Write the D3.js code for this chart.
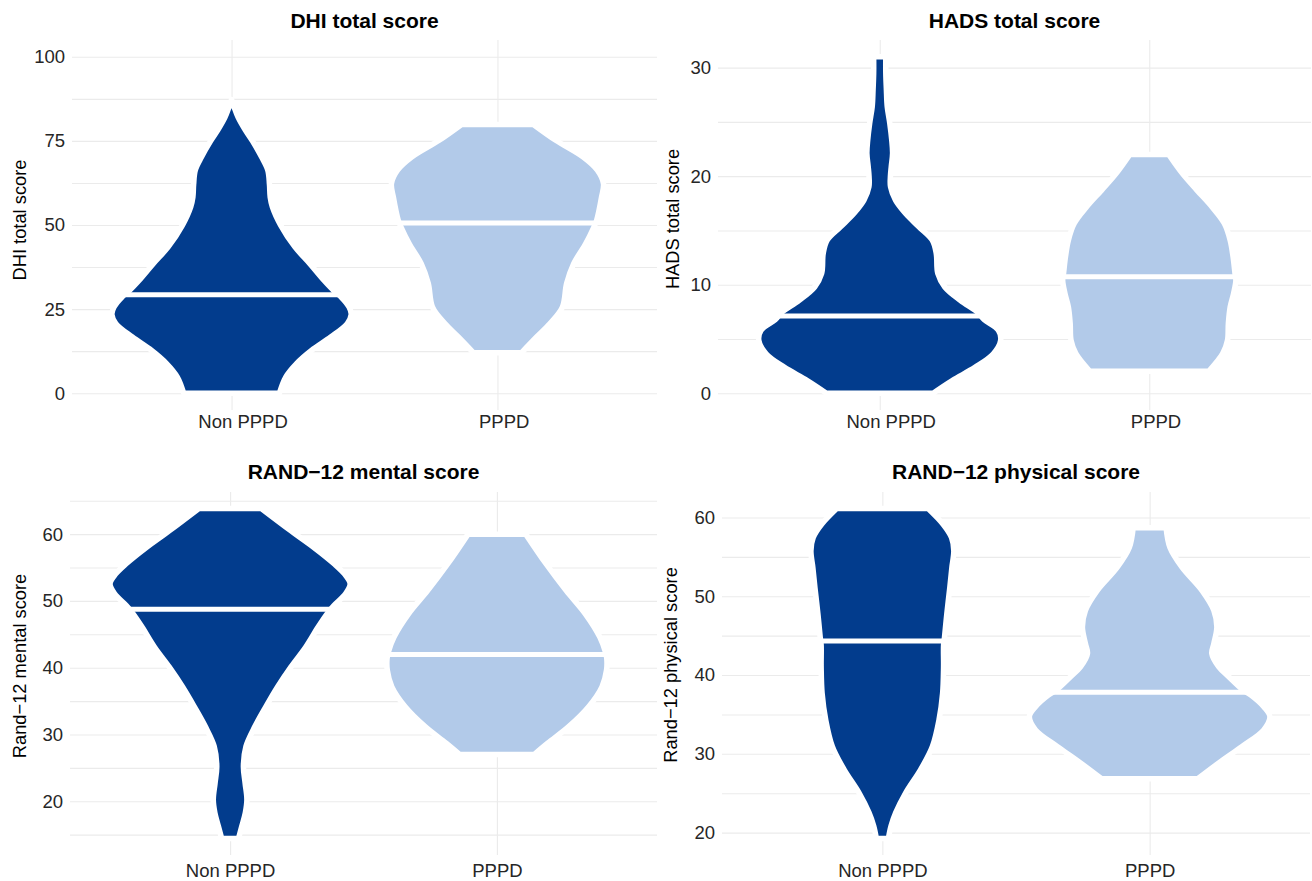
<!DOCTYPE html>
<html><head><meta charset="utf-8">
<script src="https://cdn.jsdelivr.net/npm/d3@7"></script>
<style>body{margin:0;background:#fff}svg{display:block}</style>
</head><body>
<svg id="chart" width="1312" height="881"></svg>
<script>
// ---------------- data ----------------
const categories = ["Non PPPD", "PPPD"];
const panelTitles = ["DHI total score", "HADS total score", "RAND\u221212 mental score", "RAND\u221212 physical score"];
const yAxisTitles = ["DHI total score", "HADS total score", "Rand\u221212 mental score", "Rand\u221212 physical score"];
const yBreaks = [[0, 25, 50, 75, 100], [0, 10, 20, 30], [20, 30, 40, 50, 60], [20, 30, 40, 50, 60]];
const yMinorBreaks = [[12.5, 37.5, 62.5, 87.5], [5, 15, 25], [15, 25, 35, 45, 55, 65], [25, 35, 45, 55]];
const yLimits = [[0, 100], null, null, null];
const medians = [[29.3, 50.6], [7.11, 10.74], [48.77, 41.96], [44.32, 37.80]];
const groupColors = ["#023C8D", "#B2CAE9"];

// violin profiles: [score, scaled density]
const dhiNonPPPD = [[0,0.40],[4.8,0.453],[8.8,0.543],[12.7,0.668],[16.7,0.829],[20.7,0.967],[23.4,1.0],[25.6,0.982],[28.6,0.915],[29.9,0.871],[33.5,0.773],[38.5,0.654],[43.5,0.529],[49.9,0.411],[55.4,0.341],[58.3,0.323],[62,0.317],[66.3,0.303],[70.2,0.251],[75,0.174],[78.2,0.115],[82,0.055],[85,0.022],[87.3,0]];
const dhiPPPD = [[12.0,0.20],[16.7,0.327],[20.7,0.439],[25.6,0.543],[32.6,0.578],[38.5,0.637],[44.5,0.738],[49.4,0.806],[51.4,0.829],[58.3,0.870],[62.3,0.886],[66.3,0.835],[70.2,0.717],[75.2,0.487],[79.9,0.30]];
const hadsNonPPPD = [[0,0.44],[1.17,0.598],[2.40,0.788],[3.64,0.937],[4.87,0.997],[5.79,0.978],[6.77,0.862],[7.39,0.813],[8.56,0.664],[9.79,0.536],[11.02,0.479],[12.87,0.466],[14.10,0.433],[15.33,0.323],[16.56,0.213],[17.79,0.130],[19.02,0.089],[19.95,0.088],[20.87,0.095],[22.10,0.106],[23.33,0.099],[24.87,0.083],[26.41,0.062],[27.95,0.055],[29.49,0.050],[31.0,0.050]];
const hadsPPPD = [[2.02,0.49],[3.64,0.605],[4.87,0.645],[6.41,0.652],[7.94,0.667],[9.18,0.695],[10.41,0.714],[11.02,0.707],[12.56,0.691],[14.10,0.667],[15.64,0.619],[17.18,0.516],[18.72,0.392],[20.26,0.272],[22.0,0.16]];
const mentalNonPPPD = [[14.42,0.07],[16.28,0.098],[18.27,0.127],[20.25,0.140],[22.74,0.125],[25.22,0.111],[28.2,0.132],[31.18,0.206],[34.16,0.298],[37.14,0.396],[40.12,0.507],[43.1,0.630],[46.09,0.733],[48.32,0.818],[49.31,0.864],[51.06,0.961],[52.55,1.0],[54.04,0.952],[55.53,0.868],[58.0,0.698],[60.49,0.507],[63.84,0.26]];
const mentalPPPD = [[27.0,0.31],[28.7,0.423],[31.18,0.598],[34.16,0.764],[37.14,0.875],[39.63,0.913],[41.37,0.915],[42.36,0.904],[44.59,0.857],[48.07,0.736],[51.55,0.577],[55.53,0.410],[60.0,0.24]];
const physicalNonPPPD = [[19.25,0.05],[20.84,0.072],[22.53,0.111],[25.05,0.194],[28.0,0.318],[30.94,0.416],[34.31,0.471],[37.68,0.501],[41.04,0.509],[43.78,0.509],[44.82,0.517],[47.78,0.536],[51.14,0.561],[53.66,0.578],[55.77,0.594],[57.45,0.575],[59.14,0.505],[61.14,0.38]];
const physicalPPPD = [[26.83,0.40],[28.84,0.575],[30.94,0.769],[33.04,0.949],[34.73,1.0],[35.99,0.949],[37.46,0.842],[38.10,0.776],[39.78,0.658],[41.04,0.575],[42.73,0.517],[43.99,0.534],[46.09,0.559],[48.2,0.534],[50.72,0.436],[53.66,0.270],[56.19,0.169],[58.7,0.137]];
const violins = [[dhiNonPPPD, dhiPPPD], [hadsNonPPPD, hadsPPPD], [mentalNonPPPD, mentalPPPD], [physicalNonPPPD, physicalPPPD]];

// ---------------- layout ----------------
const layout = [
  {left: 72,  right: 657,  top: 40,  bottom: 410, titleY: 28.3, xPad: 5.2, hjust: 0.377, yTitleX: 26,  yTitleY: 220},
  {left: 718, right: 1311, top: 40,  bottom: 410, titleY: 28.3, xPad: 5.2, hjust: 0.377, yTitleX: 679, yTitleY: 219},
  {left: 70,  right: 657,  top: 492, bottom: 855, titleY: 479.3, xPad: 8.5, hjust: 0.5, yTitleX: 26,  yTitleY: 666},
  {left: 722, right: 1310, top: 492, bottom: 855, titleY: 479.3, xPad: 8.5, hjust: 0.5, yTitleX: 677, yTitleY: 665}
];
const FONT = "'Liberation Sans', Arial, Helvetica, sans-serif";
const gridColor = "#EBEBEB";
const textColor = "#262626";

const svg = d3.select("#chart");

function widthAt(profile, v) {
  const i = d3.bisector(d => d[0]).left(profile, v);
  if (i <= 0) return profile[0][1];
  if (i >= profile.length) return profile[profile.length - 1][1];
  const a = profile[i - 1], b = profile[i];
  return a[1] + (b[1] - a[1]) * (v - a[0]) / (b[0] - a[0]);
}

layout.forEach((p, i) => {
  const g = svg.append("g");
  const lim = yLimits[i] || d3.extent(violins[i].flat(), d => d[0]);
  const pad = (lim[1] - lim[0]) * 0.05;
  const y = d3.scaleLinear().domain([lim[0] - pad, lim[1] + pad]).range([p.bottom, p.top]);
  const x = d3.scalePoint().domain(categories).range([p.left, p.right]).padding(0.6);
  const w = d3.scaleLinear().domain([0, 1]).range([0, 0.45 * x.step()]);
  const pw = p.right - p.left;

  // minor grid
  g.append("g").attr("transform", `translate(${p.left},0)`)
    .call(d3.axisLeft(y).tickValues(yMinorBreaks[i]).tickSize(-pw).tickFormat(""))
    .call(s => s.select(".domain").remove())
    .call(s => s.selectAll("line").attr("stroke", gridColor).attr("stroke-width", 1.1));
  // major grid
  g.append("g").attr("transform", `translate(${p.left},0)`)
    .call(d3.axisLeft(y).tickValues(yBreaks[i]).tickSize(-pw).tickFormat(""))
    .call(s => s.select(".domain").remove())
    .call(s => s.selectAll("line").attr("stroke", gridColor).attr("stroke-width", 1.1));
  // vertical grid
  g.append("g").attr("transform", `translate(0,${p.bottom})`)
    .call(d3.axisBottom(x).tickSize(-(p.bottom - p.top)).tickFormat(""))
    .call(s => s.select(".domain").remove())
    .call(s => s.selectAll("line").attr("stroke", gridColor).attr("stroke-width", 1.1));

  // violins
  categories.forEach((c, k) => {
    const prof = violins[i][k];
    const cx = x(c);
    const area = d3.area()
      .y(d => y(d[0]))
      .x0(d => cx - w(d[1]))
      .x1(d => cx + w(d[1]))
      .curve(d3.curveCatmullRom.alpha(0.5));
    g.append("path").attr("d", area(prof))
      .attr("fill", groupColors[k])
      .attr("stroke", "#fff").attr("stroke-width", 5.5).attr("stroke-linejoin", "round");
    const m = medians[i][k];
    const mw = w(widthAt(prof, m));
    g.append("line")
      .attr("x1", cx - mw).attr("x2", cx + mw)
      .attr("y1", y(m)).attr("y2", y(m))
      .attr("stroke", "#fff").attr("stroke-width", 5);
  });

  // y tick labels
  g.append("g").attr("transform", `translate(${p.left},0)`)
    .call(d3.axisLeft(y).tickValues(yBreaks[i]).tickSize(0).tickPadding(7))
    .call(s => s.select(".domain").remove())
    .call(s => s.selectAll("text").attr("font-family", FONT).attr("font-size", 18.5).attr("fill", textColor));

  // x tick labels
  g.append("g").attr("transform", `translate(0,${p.bottom})`)
    .call(d3.axisBottom(x).tickSize(0).tickPadding(p.xPad))
    .call(s => s.select(".domain").remove())
    .call(s => s.selectAll("text").attr("font-family", FONT).attr("font-size", 18.5).attr("fill", textColor)
      .attr("dx", function () { return (0.5 - p.hjust) * this.getComputedTextLength(); }));

  // panel title
  g.append("text").attr("x", (p.left + p.right) / 2).attr("y", p.titleY)
    .attr("text-anchor", "middle").attr("font-family", FONT).attr("font-weight", "bold")
    .attr("font-size", 21).attr("fill", "#000").text(panelTitles[i]);

  // y axis title
  g.append("text").attr("transform", `translate(${p.yTitleX},${p.yTitleY}) rotate(-90)`)
    .attr("text-anchor", "middle").attr("font-family", FONT)
    .attr("font-size", 18.3).attr("fill", "#000").text(yAxisTitles[i]);
});
</script>
</body></html>
